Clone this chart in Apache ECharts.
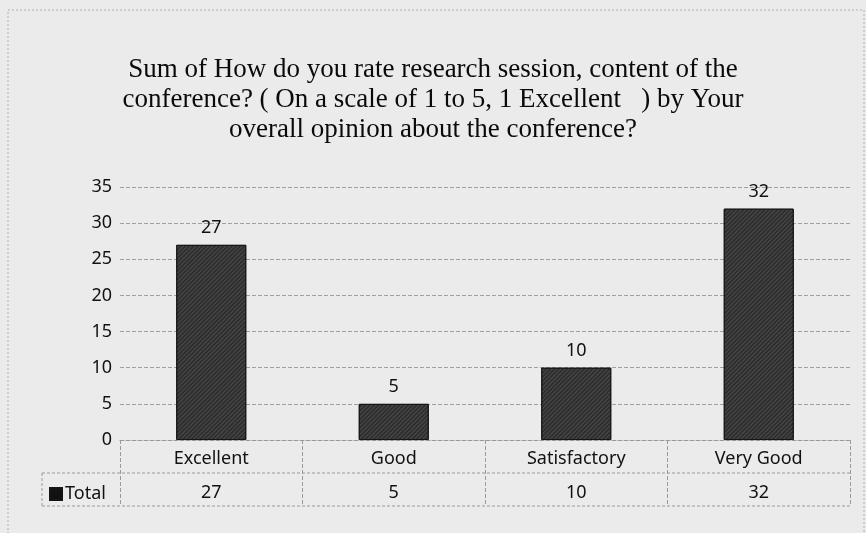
<!DOCTYPE html>
<html>
<head>
<meta charset="utf-8">
<script src="https://cdn.jsdelivr.net/npm/echarts@6/dist/echarts.min.js"></script>
<style>
  html, body { margin: 0; padding: 0; background: #ebebeb; }
  #chart { width: 866px; height: 533px; }
</style>
</head>
<body>
<div id="chart"></div>
<script>
var categories = ['Excellent', 'Good', 'Satisfactory', 'Very Good'];
var totals = [27, 5, 10, 32];
var yTicks = [0, 5, 10, 15, 20, 25, 30, 35];
var seriesName = 'Total';
var titleText = 'Sum of How do you rate research session, content of the\nconference? ( On a scale of 1 to 5, 1 Excellent   ) by Your\noverall opinion about the conference?';

var chartDom = document.getElementById('chart');
var chart = echarts.init(chartDom);

var option = {
    backgroundColor: '#ebebeb',
    animation: false,
    title: {
        text: titleText,
        left: 'center',
        top: 50,
        textStyle: {
            fontFamily: 'Liberation Serif',
            fontWeight: 'normal',
            fontSize: 27,
            lineHeight: 30,
            color: '#0a0a0a'
        }
    },
    legend: {
        left: 44,
        top: 480,
        itemWidth: 12,
        itemHeight: 12,
        itemGap: 4,
        icon: 'rect',
        itemStyle: { color: '#111', decal: 'none' },
        textStyle: { fontFamily: 'Noto Sans', fontSize: 18, color: '#111', padding: [0, 0, 0, -2] },
        data: [seriesName]
    },
    grid: {
        left: 120,
        right: 16,
        top: 187,
        bottom: 93
    },
    xAxis: {
        type: 'category',
        data: categories,
        axisLine: { show: true, lineStyle: { color: '#9a9a9a', type: 'dashed', width: 1 } },
        axisTick: { show: true, length: 66, lineStyle: { color: '#9a9a9a', type: 'dashed' } },
        axisLabel: {
            margin: 4,
            formatter: function (value, idx) {
                return '{c|' + value + '}\n{v|' + totals[idx] + '}';
            },
            rich: {
                c: { fontFamily: 'Noto Sans', fontSize: 18, color: '#111', lineHeight: 30, height: 30 },
                v: { fontFamily: 'Noto Sans', fontSize: 18, color: '#111', lineHeight: 38, height: 38 }
            }
        }
    },
    yAxis: {
        type: 'value',
        min: 0,
        max: 35,
        interval: 5,
        axisLine: { show: false },
        axisTick: { show: false },
        axisLabel: {
            margin: 8,
            fontFamily: 'Noto Sans',
            fontSize: 18,
            color: '#111',
            formatter: function (v) { return yTicks.indexOf(v) >= 0 ? String(v) : ''; }
        },
        splitLine: { lineStyle: { color: '#a0a0a0', type: 'dashed', width: 1 } }
    },
    series: [{
        name: seriesName,
        type: 'bar',
        data: totals,
        barWidth: 70,
        itemStyle: {
            color: '#2e2e2e',
            borderColor: '#151515',
            borderWidth: 1,
            decal: {
                symbol: 'rect',
                symbolSize: 1,
                color: 'rgba(110,110,110,0.45)',
                dashArrayX: [1, 0],
                dashArrayY: [1, 2],
                rotation: -Math.PI / 4
            }
        },
        label: {
            show: true,
            position: 'top',
            distance: 8,
            fontFamily: 'Noto Sans',
            fontSize: 18,
            color: '#111'
        }
    }],
    graphic: [
        {
            type: 'line',
            shape: { x1: 42, y1: 473, x2: 850, y2: 473 },
            style: { stroke: '#9a9a9a', lineDash: [3, 2], lineWidth: 1 }
        },
        {
            type: 'line',
            shape: { x1: 42, y1: 506, x2: 850, y2: 506 },
            style: { stroke: '#9a9a9a', lineDash: [3, 2], lineWidth: 1 }
        },
        {
            type: 'line',
            shape: { x1: 42, y1: 473, x2: 42, y2: 506 },
            style: { stroke: '#9a9a9a', lineDash: [3, 2], lineWidth: 1 }
        },
        {
            type: 'rect',
            shape: { x: 8, y: 10, width: 856, height: 540 },
            style: { fill: 'none', stroke: '#b0b0b0', lineDash: [2, 2], lineWidth: 1 },
            silent: true
        }
    ]
};

chart.setOption(option, true);
new ResizeObserver(() => chart.resize()).observe(chartDom);
</script>
</body>
</html>
